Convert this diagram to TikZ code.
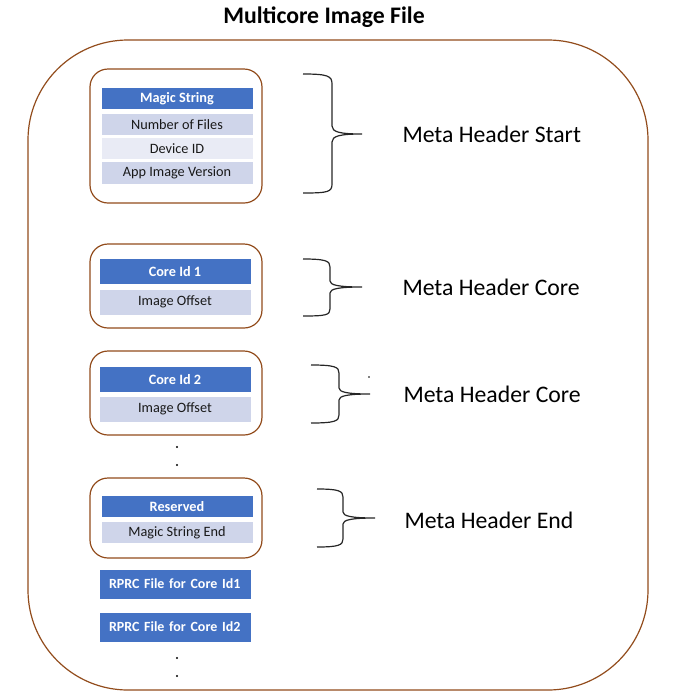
\documentclass[tikz,border=0pt]{standalone}
\usepackage{fontspec}
\setmainfont{Carlito}

\definecolor{frameBrown}{RGB}{146,76,28}
\definecolor{rowDark}{RGB}{68,114,196}
\definecolor{rowMid}{RGB}{207,213,234}
\definecolor{rowLight}{RGB}{233,235,245}

\tikzset{every picture/.style={line width=0.75pt}}
\tikzset{
  grpbox/.style={draw=frameBrown, rounded corners=13.5pt, line width=0.9pt, inner sep=0pt},
  hdrrow/.style={fill=rowDark, draw=white, line width=0.75pt, text=white,
    font=\fontsize{10.7}{12}\selectfont\bfseries, minimum width=114pt, minimum height=17pt, inner sep=0pt},
  datrow/.style={fill=rowMid, draw=white, line width=0.75pt, text=black!90,
    font=\fontsize{10.7}{12}\selectfont, minimum width=114pt, minimum height=17pt, inner sep=0pt},
  filerow/.style={hdrrow, font=\fontsize{10.5}{12}\selectfont\bfseries, minimum height=22.5pt,
    text width=99pt, align=left, inner xsep=7.5pt},
  metalabel/.style={anchor=west, inner sep=0pt, font=\fontsize{17.8}{20}\selectfont},
  hbrace/.style={draw=black!85, line width=0.9pt},
  dotmark/.style={circle, fill=black, inner sep=0pt, minimum size=1.8pt}
}

\begin{document}
\begin{tikzpicture}[x=0.75pt,y=0.75pt,yscale=-1]
\useasboundingbox (0,0) rectangle (676,697);

%Title
\node [inner sep=0pt, font=\fontsize{17.8}{20}\selectfont\bfseries] (title) at (324,17) {Multicore Image File};

%Rounded Rect outer
\draw [frameBrown, line width=0.9pt, rounded corners=75pt] (28,40) rectangle (648,690);

%Group boxes
\node [grpbox, minimum width=129pt, minimum height=100.5pt] (grpStart) at (176,136) {};
\node [grpbox, minimum width=129pt, minimum height=63pt] (grpCoreA) at (176,286) {};
\node [grpbox, minimum width=129pt, minimum height=63pt] (grpCoreB) at (176,393) {};
\node [grpbox, minimum width=129pt, minimum height=60pt] (grpEnd) at (176,518) {};

% Meta header start rows
\node [hdrrow] (magic) at (177,98.5) {Magic String};
\node [datrow] (numFiles) at (177,124.5) {Number of Files};
\node [datrow, fill=rowLight] (devId) at (177,148.5) {Device ID};
\node [datrow] (appVer) at (177,173) {App Image Version};

% Meta header core rows
\node [hdrrow, minimum height=19.5pt] (coreA) at (175,271.5) {Core Id 1};
\node [datrow, minimum height=19.5pt] (offsetA) at (175,302) {Image Offset};
\node [hdrrow, minimum height=19.5pt] (coreB) at (175,379.5) {Core Id 2};
\node [datrow, minimum height=19.5pt] (offsetB) at (175,409) {Image Offset};

% Meta header end rows
\node [hdrrow] (reserved) at (177,506.5) {Reserved};
\node [datrow] (magicEnd) at (177,532.5) {Magic String End};

% RPRC files
\node [filerow] (rprcA) at (175,584) {RPRC File for Core Id1};
\node [filerow] (rprcB) at (175,627) {RPRC File for Core Id2};

% Dots
\node [dotmark] (dotA) at (177,447) {};
\node [dotmark] (dotB) at (177,465) {};
\node [dotmark] (dotC) at (177,658) {};
\node [dotmark] (dotD) at (177,676) {};
\node [dotmark, minimum size=1.4pt] (dotE) at (369,377) {};

%Curve Lines (braces)
\draw [hbrace] (303,74) .. controls (328,74) and (332,76) .. (332,84) -- (332,126) .. controls (332,132) and (340,134) .. (362,134) .. controls (340,134) and (332,136) .. (332,142) -- (332,184) .. controls (332,192) and (328,193) .. (303,193);
\draw [hbrace] (303,259) .. controls (326,259) and (330,261) .. (330,267) -- (330,281) .. controls (330,285) and (338,287) .. (362,287) .. controls (338,287) and (330,289) .. (330,293) -- (330,309) .. controls (330,315) and (326,316) .. (303,316);
\draw [hbrace] (311,365) .. controls (335,365) and (339,367) .. (339,373) -- (339,388) .. controls (339,392) and (347,394) .. (370,394) .. controls (347,394) and (339,396) .. (339,400) -- (339,415) .. controls (339,421) and (335,423) .. (311,423);
\draw [hbrace] (317,489) .. controls (339,489) and (343,491) .. (343,497) -- (343,512) .. controls (343,516) and (351,518) .. (375,518) .. controls (351,518) and (343,520) .. (343,524) -- (343,539) .. controls (343,545) and (339,547) .. (317,547);

% Text Node
\node [metalabel] (lblStart) at (402,134) {Meta Header Start};
% Text Node
\node [metalabel] (lblCoreA) at (402,287) {Meta Header Core};
% Text Node
\node [metalabel] (lblCoreB) at (403,394) {Meta Header Core};
% Text Node
\node [metalabel] (lblEnd) at (404,520) {Meta Header End};

\end{tikzpicture}
\end{document}
